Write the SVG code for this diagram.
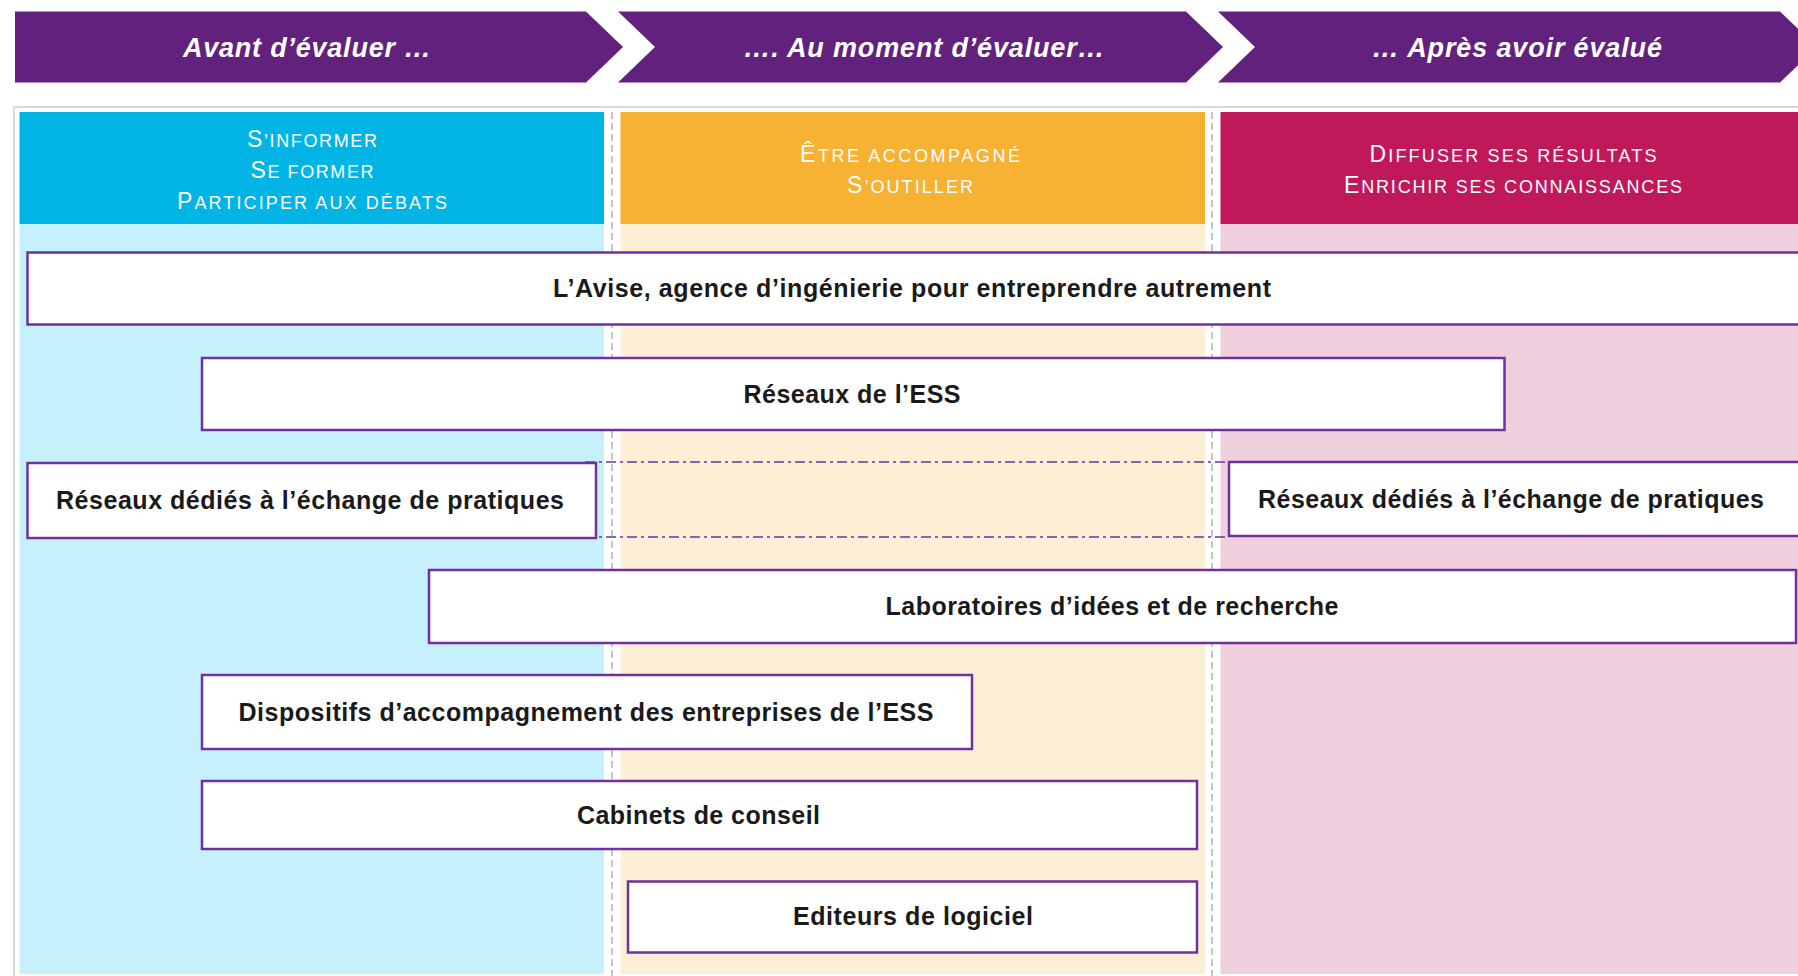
<svg xmlns="http://www.w3.org/2000/svg" width="1798" height="976" viewBox="0 0 1798 976">
<style>
.banner{fill:#62217d}
.bt{font-family:"Liberation Sans",Arial,sans-serif;font-weight:bold;font-style:italic;font-size:27px;fill:#ffffff;text-anchor:middle}
.hd{font-family:"Liberation Sans",Arial,sans-serif;font-size:18px;fill:#ffffff;text-anchor:middle}
.hd .b{font-size:23px}
.sep{stroke:#c4c4c4;stroke-width:2;stroke-dasharray:7 4;fill:none}
.box{fill:#ffffff;stroke:#7030a0;stroke-width:2.5}
.nt{font-family:"Liberation Sans",Arial,sans-serif;font-weight:bold;font-size:25px;fill:#1a1a1a;text-anchor:middle}
.dd{stroke:#7030a0;stroke-width:1.6;stroke-dasharray:10 4 3 4;fill:none}
</style>

<rect width="1798" height="976" fill="#ffffff"/>

<!-- Banner -->
<g id="banner-avant">
<polygon class="banner" points="15,11.5 586,11.5 623,47 586,82.5 15,82.5"/>
<text class="bt" x="307" y="57" textLength="248">Avant d’évaluer …</text>
</g>
<g id="banner-moment">
<polygon class="banner" points="618,11.5 1186,11.5 1223,47 1186,82.5 618,82.5 655,47"/>
<text class="bt" x="924" y="57" textLength="361">…. Au moment d’évaluer…</text>
</g>
<g id="banner-apres">
<polygon class="banner" points="1218,11.5 1780,11.5 1817,47 1780,82.5 1218,82.5 1255,47"/>
<text class="bt" x="1517" y="57" textLength="290">… Après avoir évalué</text>
</g>

<!-- Frame -->
<path d="M14,976 L14,107 L1798,107" fill="none" stroke="#d9d9d9" stroke-width="2"/>

<!-- Columns -->
<g id="col-informer">
<rect x="19.5" y="224" width="584.5" height="750" fill="#c7f0fd"/>
<rect x="19.5" y="112" width="584.5" height="112" fill="#00b5e6"/>
<text class="hd" x="312" y="147" textLength="130"><tspan class="b">S</tspan>’INFORMER</text>
<text class="hd" x="312" y="178" textLength="123"><tspan class="b">S</tspan>E FORMER</text>
<text class="hd" x="312" y="209" textLength="270"><tspan class="b">P</tspan>ARTICIPER AUX DÉBATS</text>
</g>
<g id="col-accompagne">
<rect x="620.5" y="224" width="584.5" height="750" fill="#fdefd6"/>
<rect x="620.5" y="112" width="584.5" height="112" fill="#f8b233"/>
<text class="hd" x="910" y="162" textLength="220"><tspan class="b">Ê</tspan>TRE ACCOMPAGNÉ</text>
<text class="hd" x="910" y="193" textLength="126"><tspan class="b">S</tspan>’OUTILLER</text>
</g>
<g id="col-diffuser">
<rect x="1220.5" y="224" width="580" height="750" fill="#f0d0de"/>
<rect x="1220.5" y="112" width="580" height="112" fill="#c0195a"/>
<text class="hd" x="1513" y="162" textLength="287"><tspan class="b">D</tspan>IFFUSER SES RÉSULTATS</text>
<text class="hd" x="1513" y="193" textLength="338"><tspan class="b">E</tspan>NRICHIR SES CONNAISSANCES</text>
</g>

<!-- Separators and connectors -->
<g id="connectors">
<line class="sep" x1="612" y1="112" x2="612" y2="976"/>
<line class="sep" x1="1212" y1="112" x2="1212" y2="976"/>
<line class="dd" x1="585" y1="462" x2="1229" y2="462"/>
<line class="dd" x1="585" y1="537" x2="1229" y2="537"/>
</g>

<!-- Nodes -->
<g id="node-avise">
<rect class="box" x="27.5" y="252.5" width="1790" height="72"/>
<text class="nt" x="912" y="297" textLength="718">L’Avise, agence d’ingénierie pour entreprendre autrement</text>
</g>
<g id="node-reseaux-ess">
<rect class="box" x="202" y="358" width="1302.5" height="72"/>
<text class="nt" x="852" y="403" textLength="217">Réseaux de l’ESS</text>
</g>
<g id="node-reseaux-pratiques-1">
<rect class="box" x="27.5" y="463" width="568.5" height="75"/>
<text class="nt" x="310" y="509" textLength="508">Réseaux dédiés à l’échange de pratiques</text>
</g>
<g id="node-reseaux-pratiques-2">
<rect class="box" x="1229" y="462" width="590" height="74"/>
<text class="nt" x="1511" y="508" textLength="506">Réseaux dédiés à l’échange de pratiques</text>
</g>
<g id="node-laboratoires">
<rect class="box" x="429" y="570" width="1367" height="73"/>
<text class="nt" x="1112" y="615" textLength="453">Laboratoires d’idées et de recherche</text>
</g>
<g id="node-dispositifs">
<rect class="box" x="202" y="675" width="770" height="74"/>
<text class="nt" x="586" y="721" textLength="695">Dispositifs d’accompagnement des entreprises de l’ESS</text>
</g>
<g id="node-cabinets">
<rect class="box" x="202" y="781" width="995" height="68"/>
<text class="nt" x="698.5" y="824" textLength="243">Cabinets de conseil</text>
</g>
<g id="node-editeurs">
<rect class="box" x="628" y="881.5" width="569" height="71"/>
<text class="nt" x="913" y="925" textLength="240">Editeurs de logiciel</text>
</g>
</svg>
